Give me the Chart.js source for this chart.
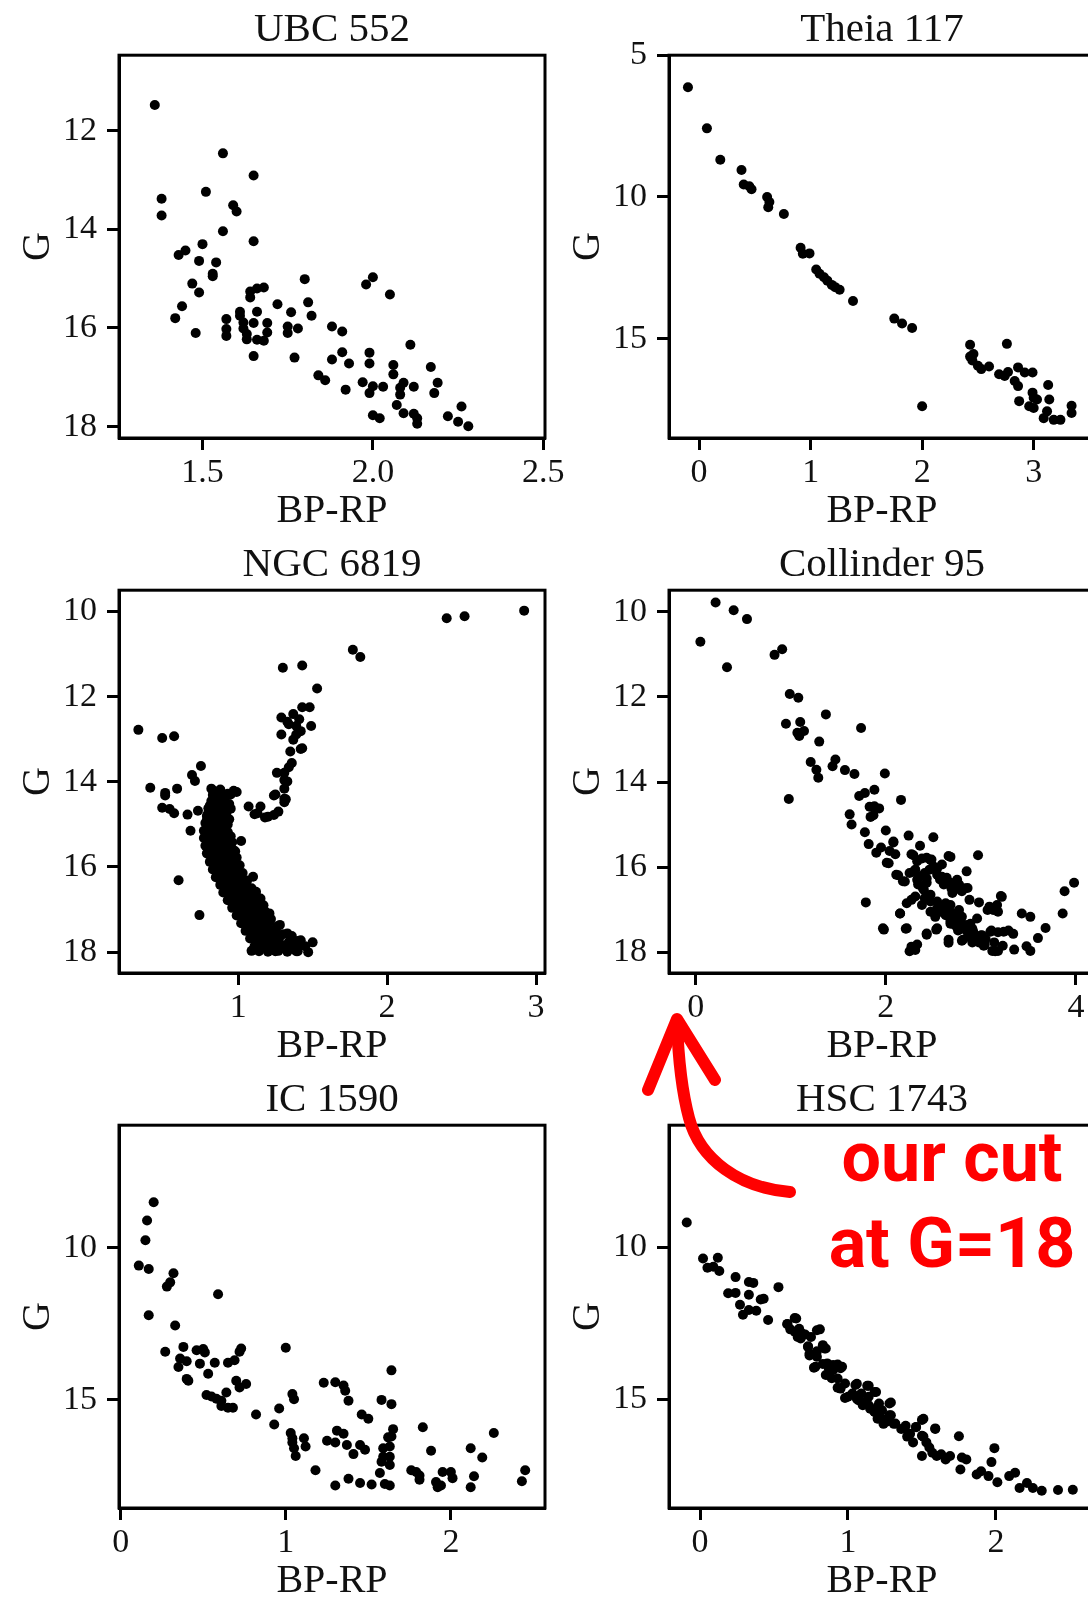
<!DOCTYPE html>
<html>
<head>
<meta charset="utf-8">
<script src="https://cdn.jsdelivr.net/npm/chart.js@4.4.1/dist/chart.umd.min.js"></script>
<style>
  html, body { margin: 0; padding: 0; background: #fff; overflow: hidden; }
  #page { position: relative; width: 1088px; height: 1597px; overflow: hidden; background: #fff; }
  #page canvas { position: absolute; }
  #arrow { position: absolute; left: 0; top: 0; z-index: 2; }
  #note { position: absolute; left: 752px; top: 1114px; width: 400px; text-align: center;
          font: 700 70px/86px Roboto, sans-serif; color: #ff0000; z-index: 3; }
</style>
</head>
<body>
<div id="page">
  <canvas id="c0" width="580" height="535" style="left:0;top:0"></canvas>
  <canvas id="c1" width="580" height="535" style="left:550px;top:0"></canvas>
  <canvas id="c2" width="580" height="535" style="left:0;top:535px"></canvas>
  <canvas id="c3" width="580" height="535" style="left:550px;top:535px"></canvas>
  <canvas id="c4" width="580" height="535" style="left:0;top:1070px"></canvas>
  <canvas id="c5" width="580" height="535" style="left:550px;top:1070px"></canvas>
  <svg id="arrow" width="1088" height="1597">
    <g fill="none" stroke="#ff0000" stroke-width="12" stroke-linecap="round" stroke-linejoin="round">
      <path d="M790,1192 C740,1188 700,1160 689,1118 C681,1088 678,1050 677,1022"/>
      <path d="M648,1090 L677,1019 L715,1080"/>
    </g>
  </svg>
  <div id="note">our cut<br>at G=18</div>
</div>
<script>
// colour-magnitude diagrams: [BP-RP, G] per star
var ubc552 = [
  [1.36,11.48],[1.56,12.46],[1.65,12.91],[1.51,13.24],[1.38,13.38],[1.38,13.72],[1.59,13.51],[1.60,13.64],
  [1.56,14.04],[1.65,14.24],[1.50,14.30],[1.45,14.43],[1.43,14.52],[1.49,14.64],[1.54,14.67],[1.53,14.90],
  [1.53,14.95],[1.47,15.10],[1.49,15.28],[1.80,15.01],[2.00,14.97],[1.98,15.12],[2.05,15.32],[1.64,15.26],
  [1.66,15.20],[1.68,15.18],[1.64,15.38],[1.72,15.52],[1.81,15.48],[1.76,15.68],[1.82,15.75],[1.44,15.56],
  [1.42,15.80],[1.61,15.67],[1.61,15.75],[1.66,15.67],[1.57,15.82],[1.57,16.02],[1.57,16.16],[1.48,16.10],
  [1.62,15.89],[1.65,15.90],[1.69,15.90],[1.62,16.01],[1.63,16.12],[1.63,16.23],[1.66,16.24],[1.68,16.26],
  [1.69,16.09],[1.75,15.97],[1.75,16.10],[1.78,16.01],[1.65,16.57],[1.77,16.60],[1.88,15.97],[1.91,16.07],
  [1.91,16.49],[1.88,16.64],[1.93,16.72],[1.99,16.50],[1.99,16.72],[2.11,16.34],[2.06,16.75],[2.06,16.94],
  [2.17,16.79],[2.19,17.11],[2.18,17.32],[2.12,17.19],[1.84,16.96],[1.86,17.06],[1.97,17.10],[2.00,17.18],
  [1.99,17.32],[2.03,17.19],[2.09,17.11],[2.08,17.21],[2.08,17.35],[1.92,17.25],[2.07,17.56],[2.09,17.73],
  [2.00,17.77],[2.02,17.83],[2.12,17.74],[2.13,17.83],[2.13,17.94],[2.22,17.79],[2.25,17.90],[2.26,17.59],
  [2.28,17.99]
];

var theia117 = [
  [-0.10,6.13],[0.07,7.58],[0.19,8.69],[0.38,9.05],[0.40,9.56],[0.45,9.62],[0.47,9.73],[0.61,10.00],
  [0.63,10.18],[0.62,10.36],[0.76,10.60],[0.91,11.79],[0.93,12.00],[0.99,11.99],[1.05,12.56],[1.08,12.71],
  [1.12,12.83],[1.15,12.95],[1.19,13.10],[1.22,13.18],[1.26,13.27],[1.38,13.67],[1.75,14.29],[1.82,14.46],
  [1.91,14.62],[2.00,17.38],[2.43,15.21],[2.43,15.63],[2.46,15.54],[2.45,15.77],[2.50,15.95],[2.53,16.07],
  [2.60,15.98],[2.76,15.18],[2.69,16.25],[2.74,16.31],[2.77,16.17],[2.86,16.01],[2.92,16.19],[2.99,16.19],
  [2.83,16.49],[2.86,16.67],[2.99,16.90],[3.00,17.08],[3.03,17.14],[2.87,17.20],[2.96,17.38],[3.00,17.44],
  [3.13,16.63],[3.14,17.14],[3.12,17.56],[3.09,17.80],[3.18,17.86],[3.24,17.86],[3.34,17.36],[3.34,17.62]
];

var ngc6819 = [
  // giants and blue stragglers
  [2.92,9.98],[2.40,10.16],[2.52,10.11],[1.77,10.90],[1.82,11.07],[1.30,11.32],[1.43,11.27],[1.53,11.81],
  [0.33,12.78],[0.49,12.97],[0.57,12.93],[0.75,13.63],[0.69,13.84],[0.71,13.98],[0.41,14.14],[0.51,14.26],
  [0.51,14.32],[0.59,14.16],[0.49,14.61],[0.54,14.64],[0.57,14.74],[0.66,14.77],[0.73,14.68],[0.68,15.15],
  [0.60,16.31],[0.74,17.13],
  [1.29,12.49],[1.33,12.59],[1.37,12.41],[1.41,12.53],[1.43,12.25],[1.48,12.25],[1.49,12.69],[1.39,12.69],
  [1.39,12.89],[1.42,12.81],[1.37,13.01],[1.42,13.23],[1.35,13.29],[1.43,13.21],[1.36,13.56],[1.34,13.66],
  [1.31,13.79],[1.26,13.79],[1.31,13.96],[1.33,13.99],[1.31,14.16],[1.25,14.30],[1.32,14.41],[1.24,14.32],
  [1.31,14.40],[1.31,14.48],[1.07,14.58],[1.11,14.76],[1.15,14.58],[1.13,14.74],[1.18,14.84],[1.20,14.82],
  [1.24,14.78],[1.27,14.70],[1.29,12.89],[1.34,12.65],
  // turnoff and main sequence
  [0.82,14.16],[0.88,14.18],[0.97,14.21],[0.99,14.24],[0.84,14.22],[0.88,14.25],[0.93,14.28],[0.86,14.35],
  [0.91,14.38],[0.82,14.45],[0.86,14.50],[0.90,14.47],[0.94,14.52],[0.80,14.62],[0.84,14.66],[0.88,14.60],
  [0.92,14.70],[0.95,14.63],[0.79,14.80],[0.83,14.78],[0.87,14.84],[0.91,14.82],[0.94,14.88],[0.78,14.97],
  [0.82,15.02],[0.86,14.98],[0.90,15.05],[0.93,15.00],[0.77,15.15],[0.81,15.20],[0.85,15.14],[0.89,15.22],
  [0.93,15.18],[0.77,15.32],[0.80,15.38],[0.84,15.30],[0.88,15.40],[0.92,15.35],[0.96,15.42],[0.78,15.50],
  [0.82,15.56],[0.86,15.50],[0.90,15.58],[0.94,15.52],[0.79,15.68],[0.83,15.74],[0.87,15.70],[0.91,15.76],
  [0.95,15.70],[0.99,15.78],[0.81,15.88],[0.85,15.92],[0.89,15.86],[0.93,15.94],[0.97,15.90],[1.01,15.96],
  [0.83,16.06],[0.87,16.10],[0.91,16.04],[0.95,16.12],[0.99,16.08],[1.03,16.14],[0.85,16.24],[0.89,16.28],
  [0.93,16.22],[0.97,16.30],[1.01,16.26],[1.06,16.32],[0.88,16.42],[0.92,16.46],[0.96,16.40],[1.00,16.48],
  [1.04,16.44],[1.09,16.50],[0.90,16.60],[0.94,16.64],[0.98,16.58],[1.02,16.66],[1.06,16.62],[1.12,16.68],
  [0.93,16.78],[0.97,16.82],[1.01,16.76],[1.05,16.84],[1.09,16.80],[1.15,16.86],[0.96,16.96],[1.00,17.00],
  [1.04,16.94],[1.08,17.02],[1.12,16.98],[1.18,17.04],[0.99,17.14],[1.03,17.18],[1.07,17.12],[1.11,17.20],
  [1.16,17.16],[1.22,17.22],[1.02,17.32],[1.06,17.36],[1.10,17.30],[1.14,17.38],[1.19,17.34],[1.26,17.40],
  [1.05,17.50],[1.09,17.54],[1.13,17.48],[1.17,17.56],[1.22,17.52],[1.30,17.58],[1.08,17.68],[1.12,17.72],
  [1.16,17.66],[1.20,17.74],[1.25,17.70],[1.34,17.76],[1.42,17.72],[1.11,17.86],[1.15,17.90],[1.19,17.84],
  [1.24,17.92],[1.30,17.88],[1.37,17.90],[1.45,17.86],[1.14,17.98],[1.20,17.99],[1.27,17.97],[1.33,17.99],
  [1.40,17.98],[1.09,17.97],[1.02,15.39],[0.98,15.63],[1.10,16.23],[1.12,16.58],[1.15,16.74],[1.17,16.90],
  [1.21,17.09],[1.28,17.36],[1.33,17.56],[1.40,17.74],[1.50,17.77],[1.47,18.00],[1.39,17.98],[1.25,17.98],
  [0.83,14.31],[0.87,14.29],[0.91,14.33],[0.95,14.30],[0.81,14.56],[0.85,14.57],[0.89,14.55],[0.93,14.58],
  [0.80,14.72],[0.84,14.73],[0.88,14.71],[0.92,14.74],[0.79,14.90],[0.83,14.91],[0.87,14.89],[0.91,14.92],
  [0.79,15.08],[0.83,15.09],[0.87,15.07],[0.91,15.10],[0.79,15.26],[0.83,15.25],[0.87,15.27],[0.91,15.26],
  [0.95,15.28],[0.79,15.45],[0.84,15.44],[0.88,15.46],[0.92,15.45],[0.80,15.62],[0.85,15.61],[0.89,15.63],
  [0.93,15.62],[0.97,15.61],[0.82,15.82],[0.86,15.81],[0.90,15.83],[0.94,15.82],[0.98,15.84],[0.84,16.00],
  [0.88,15.99],[0.92,16.01],[0.96,16.00],[1.00,16.02],[0.86,16.18],[0.90,16.17],[0.94,16.19],[0.98,16.18],
  [1.02,16.20],[0.89,16.36],[0.93,16.35],[0.97,16.37],[1.01,16.36],[1.05,16.38],[0.92,16.54],[0.96,16.53],
  [1.00,16.55],[1.04,16.54],[1.08,16.56],[0.95,16.72],[0.99,16.71],[1.03,16.73],[1.07,16.72],[1.11,16.74],
  [0.98,16.90],[1.02,16.89],[1.06,16.91],[1.10,16.90],[1.14,16.92],[1.01,17.08],[1.05,17.07],[1.09,17.09],
  [1.13,17.08],[1.18,17.10],[1.04,17.26],[1.08,17.25],[1.12,17.27],[1.16,17.26],[1.21,17.28],[1.07,17.44],
  [1.11,17.43],[1.15,17.45],[1.20,17.44],[1.25,17.46],[1.10,17.62],[1.14,17.61],[1.18,17.63],[1.23,17.62],
  [1.28,17.64],[1.36,17.62],[1.13,17.80],[1.17,17.79],[1.22,17.81],[1.28,17.80],[1.35,17.82],[1.41,17.80]
];

var collinder95 = [
  [0.21,9.78],[0.40,9.96],[0.54,10.17],[0.05,10.70],[0.33,11.30],[0.83,11.01],[0.91,10.88],[0.99,11.93],
  [1.08,12.02],[0.95,12.63],[1.10,12.59],[1.07,12.84],[1.09,12.92],[1.14,12.80],[1.37,12.41],[1.74,12.73],
  [1.30,13.05],[1.21,13.53],[1.27,13.71],[1.29,13.90],[1.47,13.47],[1.44,13.63],[1.57,13.72],[1.67,13.81],
  [1.99,13.80],[0.98,14.40],[1.72,14.33],[1.78,14.26],[1.88,14.18],[2.16,14.42],[1.83,14.58],[1.88,14.57],
  [1.93,14.62],[1.84,14.82],[1.87,14.78],[1.62,14.76],[1.64,15.00],[1.78,15.18],[2.00,15.14],[2.24,15.26],
  [2.50,15.30],[1.82,15.46],[1.90,15.66],[1.95,15.54],[2.08,15.42],[2.04,15.62],[2.10,15.70],[2.01,15.90],
  [2.27,15.70],[2.36,15.50],[2.43,15.78],[2.66,15.74],[2.97,15.72],[2.33,15.86],[2.48,15.82],[2.11,16.18],
  [2.18,16.33],[2.25,16.14],[2.31,16.06],[2.36,16.22],[2.41,16.14],[2.46,16.06],[2.50,15.98],[2.59,15.94],
  [2.85,16.10],[2.34,16.41],[2.40,16.53],[2.43,16.37],[2.47,16.65],[2.54,16.18],[2.57,16.29],[2.61,16.41],
  [2.64,16.25],[2.68,16.37],[2.72,16.53],[2.77,16.41],[2.80,16.57],[2.86,16.49],[2.70,16.61],[2.31,16.69],
  [2.22,16.85],[2.27,16.77],[2.38,16.89],[2.41,16.73],[2.54,16.81],[2.57,16.93],[2.63,16.85],[2.64,16.97],
  [2.68,16.89],[2.88,16.77],[2.98,16.83],[3.21,16.68],[3.88,16.57],[3.98,16.37],[3.86,17.09],[1.79,16.83],
  [2.15,17.09],[2.47,17.05],[2.52,17.17],[2.57,17.05],[2.63,17.13],[2.66,16.97],[2.68,17.21],[2.72,17.09],
  [2.77,17.01],[2.80,17.17],[2.68,17.33],[2.73,17.37],[2.79,17.29],[2.84,17.37],[2.89,17.33],[2.96,17.21],
  [3.07,17.01],[3.09,16.93],[3.16,16.97],[3.18,17.05],[3.43,17.09],[3.52,17.17],[2.76,17.49],[2.80,17.45],
  [2.86,17.53],[2.91,17.45],[2.88,17.65],[2.93,17.61],[3.00,17.61],[3.05,17.69],[3.11,17.49],[3.18,17.53],
  [3.29,17.49],[3.34,17.57],[3.68,17.43],[3.60,17.67],[1.98,17.47],[2.21,17.45],[2.43,17.59],[2.53,17.47],
  [2.66,17.78],[2.80,17.73],[2.25,17.98],[2.31,17.95],[2.91,17.77],[3.03,17.85],[3.12,17.97],[3.18,17.97],
  [3.23,17.85],[3.35,17.94],[3.48,17.86],[3.52,17.97],[3.14,17.77],[2.98,17.77],
  [2.68,15.76],[2.38,15.80],[2.47,15.83],[2.29,15.72],[2.08,15.40],[2.03,15.91],[2.13,16.19],[2.20,16.34],
  [2.29,16.11],[2.33,16.30],[2.39,16.50],[2.43,16.27],[2.54,16.03],[2.59,16.23],[2.64,16.38],[2.69,16.50],
  [2.75,16.30],[2.83,16.50],[2.47,16.81],[2.54,16.97],[2.62,17.09],[2.68,17.28],[2.75,17.21],[2.87,17.36],
  [2.92,17.52],[3.01,17.60],[3.10,17.52],[3.13,17.01],[3.17,16.89],[3.22,16.70],[3.04,17.83],[3.15,17.98],
  [3.24,17.52],[1.97,17.44],[2.15,17.09],[2.22,17.44],[2.27,17.87],[2.33,17.82],[2.43,17.56],[2.54,17.44],
  [2.66,17.71],[2.81,17.71]
];

var ic1590 = [
  [0.20,8.51],[0.16,9.11],[0.15,9.76],[0.11,10.59],[0.17,10.70],[0.32,10.84],[0.30,11.14],[0.28,11.28],
  [0.59,11.53],[0.17,12.22],[0.33,12.56],[0.38,13.26],[0.27,13.42],[0.46,13.37],[0.50,13.33],[0.51,13.44],
  [0.73,13.31],[0.72,13.42],[0.36,13.64],[0.40,13.73],[0.48,13.81],[0.57,13.78],[0.65,13.78],[0.69,13.70],
  [0.35,13.92],[0.53,14.14],[0.40,14.31],[0.41,14.37],[0.70,14.37],[0.76,14.48],[0.72,14.59],[0.64,14.76],
  [0.52,14.84],[0.55,14.89],[0.58,14.96],[0.61,15.03],[0.61,15.20],[0.65,15.26],[0.68,15.26],[1.00,13.29],
  [0.82,15.48],[0.96,15.28],[0.93,15.81],[1.04,14.81],[1.05,14.98],[1.23,14.44],[1.30,14.42],[1.35,14.53],
  [1.36,14.70],[1.38,15.03],[1.64,14.03],[1.58,15.00],[1.64,15.14],[1.46,15.48],[1.50,15.62],[1.83,15.90],
  [2.26,16.09],[1.03,16.09],[1.04,16.26],[1.04,16.40],[1.05,16.59],[1.06,16.84],[1.11,16.26],[1.12,16.53],
  [1.25,16.34],[1.30,16.40],[1.31,16.01],[1.35,16.11],[1.37,16.48],[1.41,16.78],[1.45,16.48],[1.48,16.64],
  [1.62,16.23],[1.59,16.59],[1.59,16.87],[1.58,17.03],[1.65,15.96],[1.64,16.20],[1.63,16.53],[1.63,16.87],
  [1.63,17.14],[1.88,16.67],[2.12,16.59],[2.19,16.89],[1.18,17.31],[1.30,17.81],[1.38,17.59],[1.45,17.73],
  [1.52,17.78],[1.60,17.76],[1.57,17.40],[1.63,17.81],[1.76,17.31],[1.79,17.37],[1.81,17.62],[1.81,17.48],
  [1.91,17.70],[1.92,17.87],[1.94,17.81],[1.95,17.37],[2.00,17.37],[2.01,17.57],[2.14,17.51],[2.12,17.87],
  [2.45,17.31],[2.43,17.67]
];

var hsc1743 = [
  [-0.09,9.18],[0.02,10.37],[0.05,10.67],[0.12,10.34],[0.09,10.64],[0.13,10.78],[0.24,10.98],[0.19,11.51],
  [0.24,11.50],[0.33,11.14],[0.36,11.17],[0.33,11.56],[0.41,11.72],[0.27,11.89],[0.29,12.22],[0.33,12.06],
  [0.38,12.09],[0.53,11.31],[0.46,12.39],[0.59,12.53],[0.61,12.70],[0.65,12.34],[0.66,12.76],[0.68,13.00],
  [0.71,12.87],[0.79,12.73],[0.73,13.26],[0.74,13.56],[0.79,13.42],[0.84,13.33],[0.77,13.96],[0.83,13.84],
  [0.85,14.20],[0.87,13.98],[0.90,13.87],[0.95,13.98],[0.89,14.31],[0.93,14.62],[0.98,14.48],[0.98,14.96],
  [1.05,14.53],[1.03,14.81],[1.07,15.03],[1.10,15.20],[1.13,14.56],[1.18,14.76],[1.14,14.92],[1.15,15.31],
  [1.18,15.42],[1.21,15.14],[1.23,15.64],[1.24,15.81],[1.20,15.64],[1.28,15.14],[1.29,15.53],[1.31,15.81],
  [1.36,15.98],[1.39,15.87],[1.42,16.14],[1.44,16.42],[1.46,15.92],[1.50,15.68],[1.50,16.20],[1.53,16.42],
  [1.50,16.87],[1.55,16.59],[1.57,16.76],[1.59,15.98],[1.60,16.87],[1.63,16.81],[1.66,16.98],[1.69,16.87],
  [1.75,16.22],[1.76,17.31],[1.77,16.92],[1.80,16.98],[1.87,17.48],[1.90,17.37],[1.95,17.53],[1.97,17.07],
  [1.99,16.61],[2.01,17.73],[2.09,17.53],[2.13,17.42],[2.16,17.92],[2.21,17.76],[2.25,17.92],[2.31,18.01],
  [2.42,17.99],[2.52,17.98],
  [0.43,11.69],[0.59,12.52],[0.64,12.33],[0.67,12.68],[0.64,12.78],[0.69,12.84],[0.66,12.95],[0.75,12.95],
  [0.81,12.70],[0.73,13.28],[0.85,13.33],[0.83,13.22],[0.74,13.50],[0.79,13.60],[0.78,13.93],[0.86,13.82],
  [0.90,14.04],[0.93,13.86],[0.96,13.93],[0.87,14.21],[0.93,14.32],[0.95,14.65],[1.00,14.92],[1.06,14.49],
  [1.14,14.56],[1.09,14.81],[1.06,14.98],[1.11,15.09],[1.14,15.20],[1.19,14.76],[1.20,15.25],[1.18,15.41],
  [1.23,15.36],[1.29,15.11],[1.28,15.53],[1.22,15.64],[1.26,15.74],[1.32,15.80],[1.38,15.96],[1.40,16.23],
  [1.46,15.91],[1.51,15.64],[1.51,16.23],[1.59,15.96]
];

// tick labels and axis limits for each panel
var ubc552XTicks = ['1.5', '2.0', '2.5'],  ubc552YTicks = ['12', '14', '16', '18'];
var theia117XTicks = ['0', '1', '2', '3'], theia117YTicks = ['5', '10', '15'];
var ngc6819XTicks = ['1', '2', '3'],       ngc6819YTicks = ['10', '12', '14', '16', '18'];
var collinder95XTicks = ['0', '2', '4'],   collinder95YTicks = ['10', '12', '14', '16', '18'];
var ic1590XTicks = ['0', '1', '2'],        ic1590YTicks = ['10', '15'];
var hsc1743XTicks = ['0', '1', '2'],       hsc1743YTicks = ['10', '15'];

var FONT = "'Liberation Serif', 'DejaVu Serif', serif";

// box around the plotting area
var frame = {
  id: 'frame',
  afterDraw: function(chart) {
    var ctx = chart.ctx, a = chart.chartArea;
    ctx.save();
    ctx.strokeStyle = '#000';
    ctx.lineWidth = 3;
    ctx.strokeRect(a.left, a.top, a.right - a.left, a.bottom - a.top);
    ctx.restore();
  }
};

function axis(labels, range, title, vertical) {
  return {
    type: 'linear',
    min: range[0],
    max: range[1],
    reverse: vertical,
    afterBuildTicks: function(s) {
      s.ticks = labels.map(function(t) { return { value: parseFloat(t) }; });
    },
    afterFit: function(s) {
      if (vertical) s.width = 119; else s.height = 97;
    },
    ticks: {
      autoSkip: false,
      maxRotation: 0,
      padding: vertical ? 10 : 3,
      color: '#111',
      font: { family: FONT, size: 34 },
      callback: function(v, i) { return labels[i]; }
    },
    grid: { drawOnChartArea: false, drawTicks: true, tickLength: 12, tickWidth: 3, tickColor: '#000' },
    border: { display: true, color: '#000', width: 3 },
    title: {
      display: true,
      text: title,
      color: '#111',
      font: { family: FONT, size: 40 },
      padding: vertical ? { top: 14, bottom: 0 } : { top: 0, bottom: 0 }
    }
  };
}

function panel(id, name, stars, xTicks, yTicks, xRange, yRange) {
  return new Chart(document.getElementById(id), {
    type: 'scatter',
    data: {
      datasets: [{
        data: stars.map(function(s) { return { x: s[0], y: s[1] }; }),
        backgroundColor: '#000',
        borderWidth: 0,
        pointRadius: 5,
        pointHoverRadius: 5
      }]
    },
    options: {
      responsive: false,
      animation: false,
      events: [],
      devicePixelRatio: 1,
      layout: { autoPadding: false, padding: { left: 0, top: 0, right: 35, bottom: 0 } },
      plugins: {
        legend: { display: false },
        tooltip: { enabled: false },
        title: {
          display: true,
          text: name,
          fullSize: false,
          color: '#111',
          font: { family: FONT, size: 41, weight: 'normal' },
          padding: { top: 6, bottom: 0 }
        }
      },
      scales: {
        x: axis(xTicks, xRange, 'BP-RP', false),
        y: axis(yTicks, yRange, 'G', true)
      }
    },
    plugins: [frame]
  });
}

panel('c0', 'UBC 552', ubc552, ubc552XTicks, ubc552YTicks, [1.255, 2.505], [10.47, 18.23]);
panel('c1', 'Theia 117', theia117, theia117XTicks, theia117YTicks, [-0.27, 3.55], [5.0, 18.5]);
panel('c2', 'NGC 6819', ngc6819, ngc6819XTicks, ngc6819YTicks, [0.2, 3.06], [9.5, 18.49]);
panel('c3', 'Collinder 95', collinder95, collinder95XTicks, collinder95YTicks, [-0.28, 4.2], [9.49, 18.49]);
panel('c4', 'IC 1590', ic1590, ic1590XTicks, ic1590YTicks, [-0.01, 2.57], [5.98, 18.55]);
panel('c5', 'HSC 1743', hsc1743, hsc1743XTicks, hsc1743YTicks, [-0.21, 2.67], [5.98, 18.58]);
</script>
</body>
</html>
